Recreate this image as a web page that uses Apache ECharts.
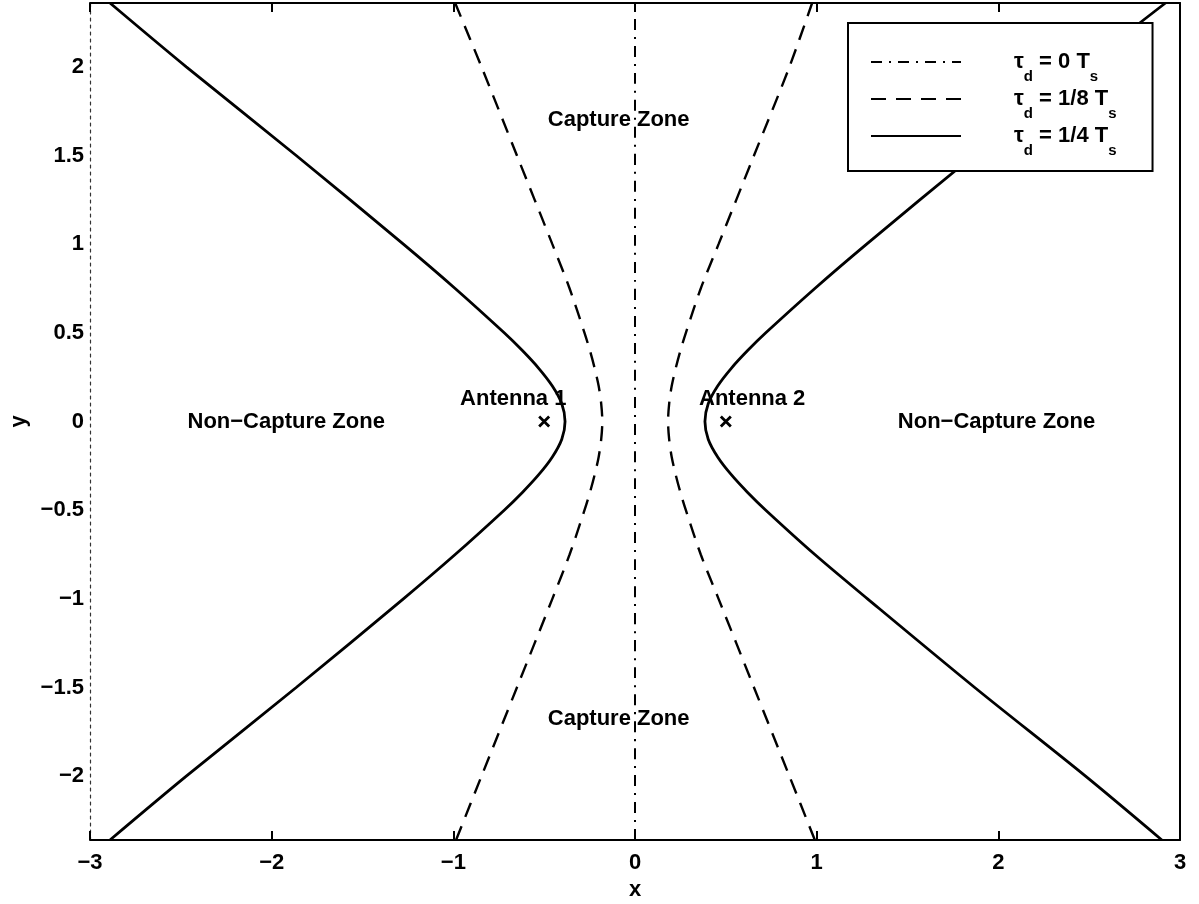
<!DOCTYPE html>
<html>
<head>
<meta charset="utf-8">
<title>Capture zones</title>
<script src="https://cdn.jsdelivr.net/npm/echarts@6/dist/echarts.min.js"></script>
<style>
  html, body { margin: 0; padding: 0; background: #fff; }
  #chart { width: 1199px; height: 904px; }
</style>
</head>
<body>
<div id="chart"></div>
<script>
// y sample levels shared by every boundary branch
const yLevels = [-2.36, -2, -1.5, -1, -0.75, -0.5, -0.4, -0.3, -0.2, -0.1, 0,
                 0.1, 0.2, 0.3, 0.4, 0.5, 0.75, 1, 1.5, 2, 2.36];

// tau_d = 1/4 Ts boundary (solid)
const solidLeftX  = [-2.89, -2.47, -1.865, -1.275, -0.99, -0.72, -0.62, -0.53, -0.455, -0.403, -0.385,
                     -0.403, -0.455, -0.53, -0.62, -0.72, -0.99, -1.275, -1.865, -2.47, -2.89];
const solidRightX = [2.9, 2.48, 1.87, 1.28, 0.99, 0.72, 0.62, 0.53, 0.455, 0.403, 0.385,
                     0.403, 0.455, 0.53, 0.62, 0.72, 0.99, 1.275, 1.865, 2.47, 2.92];

// tau_d = 1/8 Ts boundary (dashed)
const dashedLeftX  = [-0.985, -0.845, -0.65, -0.455, -0.36, -0.278, -0.248, -0.222, -0.2, -0.186, -0.18,
                      -0.186, -0.2, -0.222, -0.248, -0.278, -0.36, -0.455, -0.65, -0.845, -0.99];
const dashedRightX = [0.99, 0.85, 0.655, 0.46, 0.362, 0.28, 0.25, 0.224, 0.202, 0.188, 0.182,
                      0.188, 0.202, 0.224, 0.25, 0.28, 0.362, 0.46, 0.655, 0.85, 0.975];

// tau_d = 0 boundary (dash-dot), the perpendicular bisector
const zeroLineX = [0, 0];
const zeroLineY = [-2.36, 2.36];

// antenna positions
const antennaX = [-0.5, 0.5];
const antennaY = [0, 0];

// region / antenna annotations
const noteText = ['Capture Zone', 'Capture Zone', 'Non\u2212Capture Zone', 'Non\u2212Capture Zone', 'Antenna 1', 'Antenna 2'];
const noteX = [-0.09, -0.09, -1.92, 1.99, -0.67, 0.645];
const noteY = [1.70, -1.68, 0, 0, 0.13, 0.13];

// axis ticks
const xTicks = [-3, -2, -1, 0, 1, 2, 3];
const yTicks = [-2, -1.5, -1, -0.5, 0, 0.5, 1, 1.5, 2];

// legend entries: [main part, subscript, main part, subscript]
const legendKeys = ['tau0', 'tau18', 'tau14'];
const legendParts = {
  tau0:  ['\u03c4', 'd', ' = 0 T', 's'],
  tau18: ['\u03c4', 'd', ' = 1/8 T', 's'],
  tau14: ['\u03c4', 'd', ' = 1/4 T', 's']
};

const zip = (xs, ys) => xs.map((x, i) => [x, ys[i]]);
const fmt = v => (v < 0 ? '\u2212' + String(-v) : String(v));
const FONT = '"Liberation Sans", Arial, Helvetica, sans-serif';

const solidStyle  = { color: '#000', width: 2.8, type: 'solid' };
const dashedStyle = { color: '#000', width: 2.4, type: [15, 10] };
const dotDashStyle = { color: '#000', width: 2, type: [11, 7, 2, 7] };

function branch(name, data, lineStyle) {
  return {
    type: 'line', name, data, smooth: 0.3, symbol: 'none',
    lineStyle, itemStyle: { color: '#000' }, clip: true, z: 2
  };
}

const chart = echarts.init(document.getElementById('chart'), null, { renderer: 'canvas' });

chart.setOption({
  animation: false,
  backgroundColor: '#fff',
  textStyle: { fontFamily: FONT },
  grid: { left: 90, right: 19, top: 3, bottom: 64, containLabel: false, outerBoundsMode: 'none' },
  xAxis: [
    {
      type: 'value', min: xTicks[0], max: xTicks[xTicks.length - 1], interval: 1,
      position: 'bottom',
      axisLine: { show: true, onZero: false, lineStyle: { color: '#000', width: 2 } },
      axisTick: { show: true, inside: true, length: 9, lineStyle: { color: '#000', width: 2 } },
      axisLabel: { formatter: fmt, color: '#000', fontSize: 22, fontWeight: 'bold', fontFamily: FONT, margin: 12 },
      splitLine: { show: false },
      name: 'x', nameLocation: 'middle', nameGap: 38,
      nameTextStyle: { color: '#000', fontSize: 22, fontWeight: 'bold', fontFamily: FONT }
    },
    {
      type: 'value', min: xTicks[0], max: xTicks[xTicks.length - 1], interval: 1,
      position: 'top',
      axisLine: { show: true, onZero: false, lineStyle: { color: '#000', width: 2 } },
      axisTick: { show: true, inside: true, length: 9, lineStyle: { color: '#000', width: 2 } },
      axisLabel: { show: false },
      splitLine: { show: false }
    }
  ],
  yAxis: [
    {
      type: 'value', min: -2.36, max: 2.36, position: 'left',
      axisLine: { show: true, onZero: false, lineStyle: { color: '#333', width: 1.2, type: [3, 4] } },
      axisTick: { show: false },
      axisLabel: { customValues: yTicks, formatter: fmt, color: '#000', fontSize: 22, fontWeight: 'bold', fontFamily: FONT, margin: 6 },
      splitLine: { show: false },
      name: 'y', nameLocation: 'middle', nameGap: 60,
      nameTextStyle: { color: '#000', fontSize: 22, fontWeight: 'bold', fontFamily: FONT }
    },
    {
      type: 'value', min: -2.36, max: 2.36, position: 'right',
      axisLine: { show: true, onZero: false, lineStyle: { color: '#000', width: 2 } },
      axisTick: { show: false },
      axisLabel: { show: false },
      splitLine: { show: false }
    }
  ],
  legend: {
    data: legendKeys,
    orient: 'vertical',
    left: 848, top: 23,
    padding: [28, 36, 13, 22],
    itemWidth: 90, itemHeight: 14, itemGap: 4,
    backgroundColor: '#fff',
    borderColor: '#000', borderWidth: 2, borderRadius: 0,
    selectedMode: false,
    itemStyle: { color: 'transparent', borderColor: 'transparent', borderWidth: 0, opacity: 0 },
    formatter: key => {
      const p = legendParts[key];
      return '{g| }{t|' + p[0] + '}{s|' + p[1] + '}{t|' + p[2] + '}{s|' + p[3] + '}';
    },
    textStyle: {
      color: '#000',
      rich: {
        g: { width: 48, lineHeight: 44 },
        t: { fontSize: 22, fontWeight: 'bold', fontFamily: FONT, color: '#000', lineHeight: 44 },
        s: { fontSize: 15, fontWeight: 'bold', fontFamily: FONT, color: '#000', lineHeight: 16, verticalAlign: 'bottom' }
      }
    },
    z: 10
  },
  series: [
    branch('tau0', zip(zeroLineX, zeroLineY), dotDashStyle),
    branch('tau18', zip(dashedLeftX, yLevels), dashedStyle),
    branch('tau18', zip(dashedRightX, yLevels), dashedStyle),
    branch('tau14', zip(solidLeftX, yLevels), solidStyle),
    branch('tau14', zip(solidRightX, yLevels), solidStyle),
    {
      type: 'scatter', name: 'antennas',
      data: zip(antennaX, antennaY),
      symbol: 'path://M0,0L10,10M10,0L0,10', symbolSize: 10,
      itemStyle: { color: 'transparent', borderColor: '#000', borderWidth: 2.8, opacity: 1 },
      z: 3
    },
    {
      type: 'scatter', name: 'notes',
      data: noteText.map((t, i) => ({ name: t, value: [noteX[i], noteY[i]] })),
      symbolSize: 1, itemStyle: { color: 'transparent', opacity: 1 },
      label: {
        show: true, position: 'inside', formatter: '{b}', opacity: 1,
        color: '#000', fontSize: 22, fontWeight: 'bold', fontFamily: FONT
      },
      z: 3
    }
  ]
});
</script>
</body>
</html>
